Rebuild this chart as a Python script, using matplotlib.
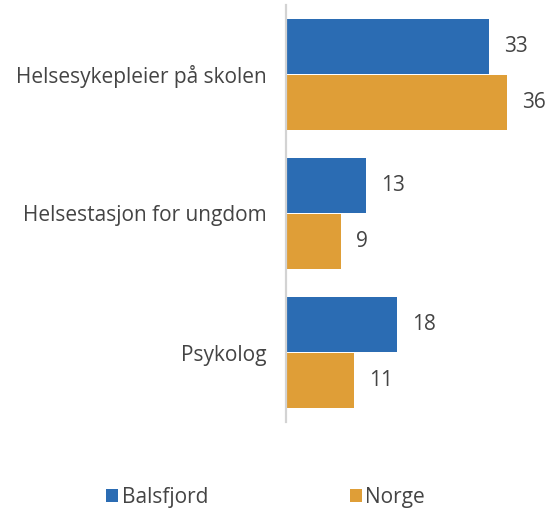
import matplotlib
matplotlib.use('agg')
import matplotlib.pyplot as plt
from matplotlib.patches import Patch
import numpy as np

kategorier = ["Helsesykepleier på skolen", "Helsestasjon for ungdom", "Psykolog"]
balsfjord = [33, 13, 18]
norge = [36, 9, 11]
serier = ["Balsfjord", "Norge"]
farger = ["#2b6cb3", "#df9e37"]

plt.rcParams['font.family'] = ['Open Sans', 'DejaVu Sans']
tekstfarge = "#444444"
fs = 15

fig = plt.figure(figsize=(5.48, 5.13), dpi=100)
ax = fig.add_axes([286 / 548, 1 - 422 / 513, (548 - 286) / 548, 417 / 513])

y = np.arange(len(kategorier))
h = 0.4
ax.barh(y - h / 2, balsfjord, height=h, color=farger[0])
ax.barh(y + h / 2, norge, height=h, color=farger[1])

# verdier til høyre for stolpene
for i in range(len(kategorier)):
    ax.annotate(str(balsfjord[i]), (balsfjord[i], y[i] - h / 2), xytext=(15, 0),
                textcoords='offset pixels', va='center', ha='left',
                fontsize=fs, color=tekstfarge)
    ax.annotate(str(norge[i]), (norge[i], y[i] + h / 2), xytext=(15, 0),
                textcoords='offset pixels', va='center', ha='left',
                fontsize=fs, color=tekstfarge)

ax.set_ylim(2.5, -0.5)
ax.set_xlim(0, (548 - 286) / 6.15)
ax.set_yticks(y)
ax.set_yticklabels(kategorier, fontsize=fs, color=tekstfarge)
ax.tick_params(axis='y', length=0, pad=14)
ax.set_xticks([])
for s in ['top', 'right', 'bottom']:
    ax.spines[s].set_visible(False)
ax.spines['left'].set_color('#d3d3d3')
ax.spines['left'].set_linewidth(1.6)

handles = [Patch(facecolor=farger[0]), Patch(facecolor=farger[1])]
leg = fig.legend(handles, serier, loc='center', bbox_to_anchor=(0.4845, 0.031),
                 ncol=2, frameon=False, fontsize=fs, handlelength=0.58,
                 handleheight=0.55, handletextpad=0.15, columnspacing=6.8)
for t in leg.get_texts():
    t.set_color(tekstfarge)

fig.savefig("out.png", dpi=100)
